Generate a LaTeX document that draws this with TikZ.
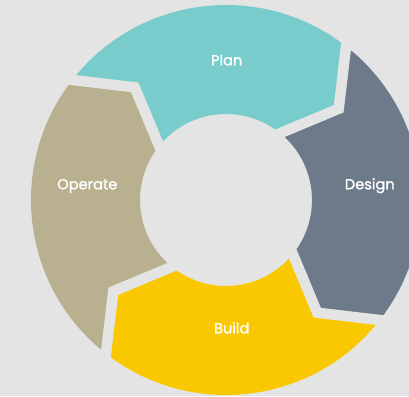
\documentclass[tikz,border=0pt]{standalone}
\usepackage{fontspec}
\newfontfamily\lblfont{Poppins}[FakeBold=1.3]
\usetikzlibrary{calc}
\definecolor{bg}{HTML}{E4E4E4}
\definecolor{planc}{HTML}{78CCCC}
\definecolor{designc}{HTML}{6D7A8A}
\definecolor{buildc}{HTML}{FAC800}
\definecolor{operatec}{HTML}{B9B08F}
\tikzset{
  gapline/.style={draw=bg, line width=10.5pt, line join=miter},
  lbl/.style={text=white, font=\lblfont\fontsize{14.6}{16}\selectfont, anchor=base, inner sep=0pt}
}
\begin{document}
\begin{tikzpicture}[x=1pt,y=1pt]
\clip (0,0) rectangle (409,-396);
\fill[bg] (0,0) rectangle (409,-396);
\coordinate (C) at (226,-200);
\foreach \n/\t in {b1/52,b2/-38,b3/-128,b4/142} {
  \coordinate (\n o) at ($(C)+(\t:195)$);
  \coordinate (\n m) at ($(C)+(\t-13:145)$);
  \coordinate (\n i) at ($(C)+(\t-1:86)$);
}
% segments
\fill[planc] (b4o) arc[start angle=142,end angle=52,radius=195] -- (b1m) -- (b1i)
  arc[start angle=51,end angle=141,radius=86] -- (b4m) -- cycle;
\fill[designc] (b1o) arc[start angle=52,end angle=-38,radius=195] -- (b2m) -- (b2i)
  arc[start angle=-39,end angle=51,radius=86] -- (b1m) -- cycle;
\fill[buildc] (b2o) arc[start angle=-38,end angle=-128,radius=195] -- (b3m) -- (b3i)
  arc[start angle=-129,end angle=-39,radius=86] -- (b2m) -- cycle;
\fill[operatec] (b3o) arc[start angle=-128,end angle=-218,radius=195] -- (b4m) -- (b4i)
  arc[start angle=-219,end angle=-129,radius=86] -- (b3m) -- cycle;
% gaps
\foreach \n in {b1,b2,b3,b4} {
  \draw[gapline] ($(\n m)!1.4!(\n o)$) -- (\n m) -- ($(\n m)!1.5!(\n i)$);
}
% labels
\node[lbl] (plan) at (226.7,-65.3) {Plan};
\node[lbl] (design) at (369.8,-189.3) {Design};
\node[lbl] (build) at (231.7,-333.3) {Build};
\node[lbl] (operate) at (87.3,-189.3) {Operate};
\end{tikzpicture}
\end{document}
